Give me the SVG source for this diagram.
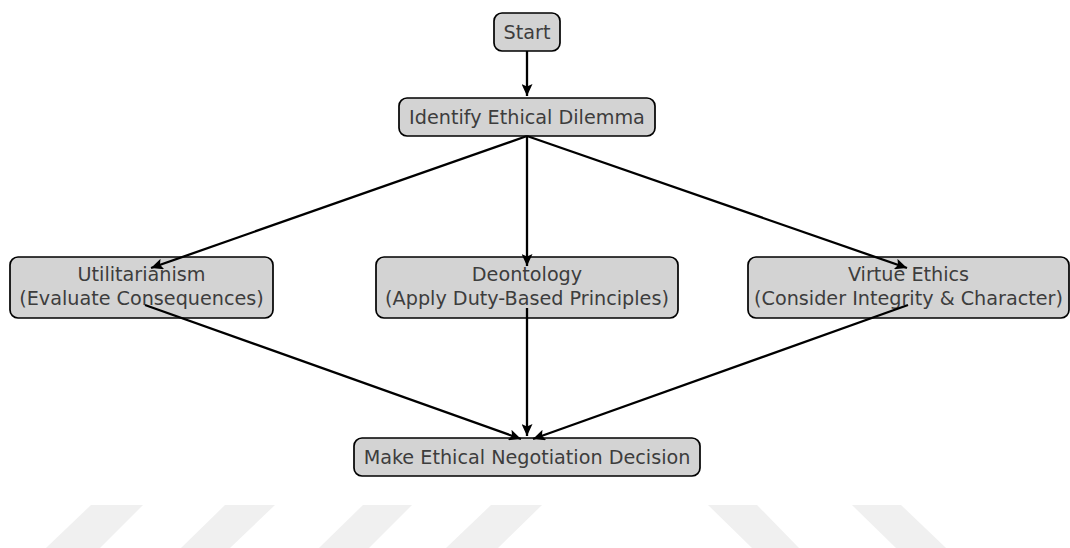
<svg xmlns="http://www.w3.org/2000/svg" width="1070" height="548" viewBox="0 0 1070 548">
<defs>
<marker id="arr" markerWidth="13" markerHeight="11" refX="12" refY="5.5" orient="auto" markerUnits="userSpaceOnUse">
<path d="M0,0 L12,5.5 L0,11 L2.5,5.5 Z" fill="#000"/>
</marker>
<style>
.box{fill:#d3d3d3;stroke:#000;stroke-width:1.7}
.lbl{font-family:"DejaVu Sans",sans-serif;font-size:19.2px;fill:#3d3d3d;text-anchor:middle}
.edge{stroke:#000;stroke-width:2.3;fill:none;marker-end:url(#arr)}
.wm{fill:#f0f0f0}
</style>
</defs>
<rect width="1070" height="548" fill="#fff"/>
<g id="watermark">
<polygon class="wm" points="91,505 143,505 100,548 46,548"/>
<polygon class="wm" points="225,505 275,505 230,548 181,548"/>
<polygon class="wm" points="363,505 412,505 369,548 319,548"/>
<polygon class="wm" points="491,505 542,505 498,548 446,548"/>
<polygon class="wm" points="708,505 757,505 799,548 752,548"/>
<polygon class="wm" points="852,505 901,505 946,548 896,548"/>
</g>
<g id="start">
<rect class="box" x="494" y="13" width="66" height="38" rx="8"/>
<text class="lbl" x="527" y="39">Start</text>
</g>
<g id="identify">
<rect class="box" x="399" y="98" width="256" height="38" rx="8"/>
<text class="lbl" x="527" y="124">Identify Ethical Dilemma</text>
</g>
<g id="utilitarianism">
<rect class="box" x="10" y="257" width="263" height="61" rx="8"/>
<text class="lbl" x="141.5" y="281">Utilitarianism</text>
<text class="lbl" x="141.5" y="305">(Evaluate Consequences)</text>
</g>
<g id="deontology">
<rect class="box" x="376" y="257" width="302" height="61" rx="8"/>
<text class="lbl" x="527" y="281">Deontology</text>
<text class="lbl" x="527" y="305">(Apply Duty-Based Principles)</text>
</g>
<g id="virtue">
<rect class="box" x="748" y="257" width="321" height="61" rx="8"/>
<text class="lbl" x="908.5" y="281">Virtue Ethics</text>
<text class="lbl" x="908.5" y="305">(Consider Integrity &amp; Character)</text>
</g>
<g id="decision">
<rect class="box" x="354" y="438" width="346" height="38" rx="8"/>
<text class="lbl" x="527" y="464">Make Ethical Negotiation Decision</text>
</g>
<g id="connectors">
<line class="edge" x1="527" y1="51" x2="527" y2="96"/>
<line class="edge" x1="527" y1="136" x2="151" y2="268"/>
<line class="edge" x1="527" y1="136" x2="527" y2="266"/>
<line class="edge" x1="527" y1="136" x2="907" y2="268"/>
<line class="edge" x1="145" y1="305" x2="521" y2="439"/>
<line class="edge" x1="527" y1="308" x2="527" y2="436"/>
<line class="edge" x1="908" y1="305" x2="533" y2="439"/>
</g>
</svg>
